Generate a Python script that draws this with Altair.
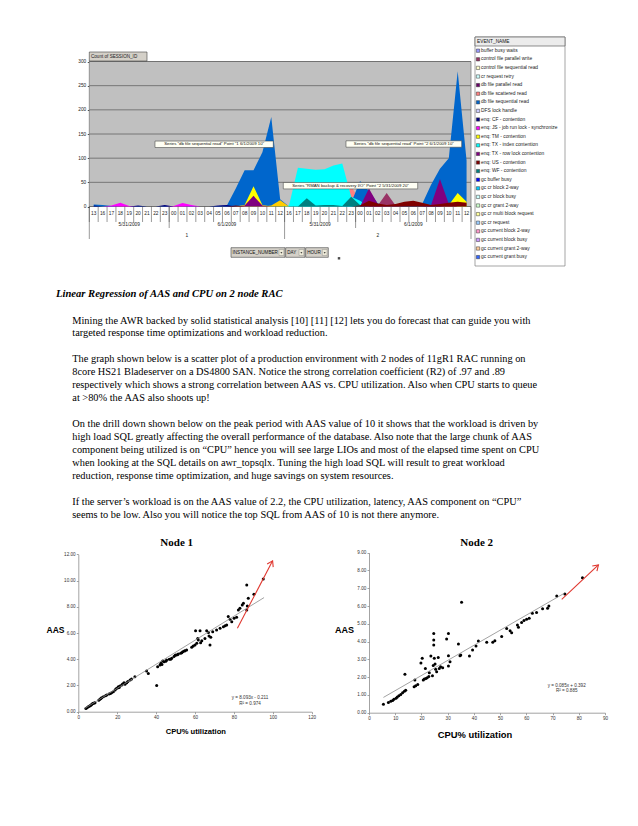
import math
import altair as alt
import pandas as pd

W, H = 622, 810

# ---------------- top pivot chart (Count of SESSION_ID by EVENT_NAME) ----------------
INSTANCES = ["1", "2"]
DAYS = ["5/31/2009", "6/1/2009"]
HOURS_I1_D1 = ["13", "16", "17", "18", "19", "20", "21", "22", "23"]
HOURS_I1_D2 = ["00", "01", "02", "03", "04", "05", "06", "07", "08", "09", "10", "11", "12"]
HOURS_I2_D1 = ["16", "17", "18", "19", "20", "21", "22", "23"]
HOURS_I2_D2 = ["00", "01", "02", "03", "04", "05", "06", "07", "08", "09", "10", "11", "12"]
Y_TICKS_TOP = [0, 50, 100, 150, 200, 250, 300]

# values per hour category (9 | 13 | 8 | 13)
S_SCATTERED = [0]*9 + [0]*13 + [0, 0, 0, 0, 0, 0, 0, 42] + [12] + [0]*12
S_SEQUENTIAL = [4, 3, 1, 0, 0, 1, 0, 0, 1] + [0, 0, 1, 0, 0, 1, 2, 37, 75, 75, 112, 185, 15] + \
               [0, 0, 0, 0, 0, 0, 0, 8] + [53, 32, 6, 3, 2, 2, 3, 5, 45, 78, 100, 280, 95]
S_RMAN = [0]*9 + [0]*13 + [2, 80, 78, 76, 77, 85, 89, 20] + [12, 0] + [0]*11
S_WF = [0]*9 + [0]*13 + [0, 0, 17, 2, 3, 3, 1, 20] + [3] + [0]*12
S_JS = [0, 0, 2, 8, 1, 0, 0, 0, 0] + [1, 7, 3] + [0]*10 + [0]*8 + [0]*13
S_CF = [2, 0, 0, 0, 0, 2, 0, 0, 3] + [0]*5 + [2, 3] + [0]*6 + [0]*8 + [0]*13
S_GOLD = [0]*9 + [0]*11 + [2, 13] + [0]*8 + [0]*13
S_TM = [0]*9 + [0]*8 + [3, 42, 3, 0, 0] + [0]*8 + [0]*10 + [3, 28, 10]
S_TX_ROW = [0]*9 + [0]*8 + [2, 22, 2, 0, 0] + [0]*8 + [0, 37, 5, 0, 0, 0, 0, 0, 3, 57, 5, 0, 0]
S_CTRL = [0]*9 + [0]*13 + [0]*8 + [0, 0, 2, 28, 2, 0, 0, 0, 0, 0, 0, 0, 0]
S_US = [0]*9 + [0]*7 + [2] + [0]*5 + [0]*8 + [2, 12, 6, 3, 5, 10, 12, 8, 3, 5, 8, 10, 8]

SERIES = [  # back to front
    ("db file scattered read", "#FF8080", S_SCATTERED),
    ("db file sequential read", "#0066CC", S_SEQUENTIAL),
    ("RMAN backup & recovery I/O", "#00FFFF", S_RMAN),
    ("enq: WF - contention", "#008080", S_WF),
    ("enq: JS - job run lock - synchronize", "#FF00FF", S_JS),
    ("enq: CF - contention", "#000080", S_CF),
    ("log file parallel write", "#FFCC00", S_GOLD),
    ("enq: TM - contention", "#FFFF00", S_TM),
    ("enq: TX - row lock contention", "#800080", S_TX_ROW),
    ("control file parallel write", "#993366", S_CTRL),
    ("enq: US - contention", "#800000", S_US),
]

LEGEND_NAMES = [
    "buffer busy waits", "control file parallel write", "control file sequential read",
    "cr request retry", "db file parallel read", "db file scattered read",
    "db file sequential read", "DFS lock handle", "enq: CF - contention",
    "enq: JS - job run lock - synchronize", "enq: TM - contention",
    "enq: TX - index contention", "enq: TX - row lock contention", "enq: US - contention",
    "enq: WF - contention", "gc buffer busy", "gc cr block 2-way", "gc cr block busy",
    "gc cr grant 2-way", "gc cr multi block request", "gc cr request",
    "gc current block 2-way", "gc current block busy", "gc current grant 2-way",
    "gc current grant busy",
]
LEGEND_COLORS = [
    "#9999FF", "#993366", "#FFFFCC", "#CCFFFF", "#660066", "#FF8080", "#0066CC", "#CCCCFF",
    "#000080", "#FF00FF", "#FFFF00", "#00FFFF", "#800080", "#800000", "#008080", "#0000FF",
    "#00CCFF", "#CCFFFF", "#CCFFCC", "#FFFF99", "#99CCFF", "#FF99CC", "#CC99FF", "#FFCC99",
    "#3366FF",
]

CALLOUTS = [
    'Series "db file sequential read" Point "1 6/1/2009 10"',
    'Series "db file sequential read" Point "2 6/1/2009 10"',
    'Series "RMAN backup & recovery I/O" Point "2 5/31/2009 20"',
]
PIVOT_BUTTONS = ["INSTANCE_NUMBER", "DAY", "HOUR"]

# ---------------- article text ----------------
TITLE = "Linear Regression of AAS and CPU on 2 node RAC"
LINES = [
    "Mining the AWR backed by solid statistical analysis [10] [11] [12] lets you do forecast that can guide you with",
    "targeted response time optimizations and workload reduction.",
    "",
    "The graph shown below is a scatter plot of a production environment with 2 nodes of 11gR1 RAC running on",
    "8core HS21 Bladeserver on a DS4800 SAN. Notice the strong correlation coefficient (R2) of .97 and .89",
    "respectively which shows a strong correlation between AAS vs. CPU utilization. Also when CPU starts to queue",
    "at >80% the AAS also shoots up!",
    "",
    "On the drill down shown below on the peak period with AAS value of 10 it shows that the workload is driven by",
    "high load SQL greatly affecting the overall performance of the database. Also note that the large chunk of AAS",
    "component being utilized is on \u201cCPU\u201d hence you will see large LIOs and most of the elapsed time spent on CPU",
    "when looking at the SQL details on awr_topsqlx. Tuning the high load SQL will result to great workload",
    "reduction, response time optimization, and huge savings on system resources.",
    "",
    "If the server\u2019s workload is on the AAS value of 2.2, the CPU utilization, latency, AAS component on \u201cCPU\u201d",
    "seems to be low. Also you will notice the top SQL from AAS of 10 is not there anymore.",
]

# ---------------- scatter data ----------------
N1_CPU = [3.9, 4.5, 5.1, 5.6, 6.0, 6.5, 6.9, 7.3, 7.7, 8.2, 8.6, 10.5, 11.1, 11.6, 12.0, 12.9, 14.0,
          14.6, 15.8, 16.5, 17.1, 18.0, 18.9, 19.4, 20.1, 20.6, 21.0, 21.4, 22.3, 22.8, 23.5, 24.0,
          24.9, 25.5, 26.6, 27.4, 29.1, 35.1, 36.0, 40.3, 40.8, 42.0, 42.5, 43.0, 43.4, 44.1, 45.0,
          45.4, 46.8, 47.5, 48.0, 49.2, 49.8, 50.2, 51.0, 51.4, 52.6, 53.2, 53.7, 54.5, 54.9, 55.7,
          58.3, 59.1, 60.0, 60.9, 60.3, 62.6, 61.4, 61.7, 62.9, 63.5, 65.1, 66.0, 66.9, 67.2, 67.7,
          68.1, 69.1, 71.1, 72.9, 74.6, 75.5, 76.3, 77.1, 78.0, 78.9, 80.1, 81.4, 82.3, 83.1, 84.3,
          84.9, 86.6, 86.6, 86.9, 87.4, 90.3, 95.1]
N1_AAS = [0.25, 0.30, 0.38, 0.42, 0.46, 0.50, 0.56, 0.60, 0.64, 0.66, 0.69, 0.88, 0.94, 1.00, 1.07,
          1.14, 1.22, 1.27, 1.35, 1.38, 1.45, 1.53, 1.65, 1.75, 1.80, 1.90, 1.85, 1.96, 2.03, 2.11,
          2.21, 2.10, 2.21, 2.30, 2.42, 2.49, 2.67, 3.10, 2.92, 2.00, 3.43, 3.56, 3.69, 3.60, 3.86,
          3.81, 3.85, 3.94, 3.99, 4.00, 4.07, 4.20, 4.30, 4.32, 4.35, 4.40, 4.45, 4.50, 4.58, 4.62,
          4.65, 4.70, 4.91, 5.01, 5.09, 5.21, 6.18, 6.18, 5.59, 5.47, 5.26, 5.40, 5.59, 6.18, 6.03,
          5.77, 5.09, 5.67, 6.10, 6.23, 6.36, 6.48, 6.55, 6.61, 7.25, 7.04, 6.86, 7.12, 7.20, 7.75,
          7.88, 8.14, 8.26, 9.66, 7.75, 8.06, 8.64, 8.95, 10.12]
N1_TREND_X = [3.4, 95.5]
N1_TREND_Y = [0.26, 8.70]
N1_ARROW_X = [81.8, 99.9]
N1_ARROW_Y = [6.36, 11.5]
N1_X_TICKS = [0, 20, 40, 60, 80, 100, 120]
N1_Y_TICKS = [0, 2, 4, 6, 8, 10, 12]

N2_CPU = [5.5, 7.4, 8.3, 9.0, 9.5, 10.3, 10.8, 11.4, 12.1, 12.8, 13.5, 14.0, 13.7, 17.2, 17.8, 18.6,
          17.5, 19.8, 20.3, 20.7, 21.1, 21.7, 22.2, 22.8, 21.5, 23.0, 23.6, 24.2, 24.5, 24.7, 24.7,
          24.7, 24.9, 25.2, 25.4, 25.8, 26.4, 26.8, 27.3, 28.1, 29.6, 30.3, 30.3, 30.3, 30.9, 34.1,
          34.7, 35.0, 35.3, 38.3, 39.5, 40.8, 41.7, 44.9, 47.2, 48.0, 50.6, 52.5, 53.8, 54.4, 56.6,
          57.0, 58.2, 59.1, 60.1, 61.1, 62.3, 63.9, 66.2, 68.1, 68.6, 71.6, 74.7, 81.4]
N2_AAS = [0.47, 0.58, 0.64, 0.69, 0.75, 0.81, 0.88, 0.96, 1.03, 1.12, 1.20, 1.26, 2.16, 1.46, 1.52,
          1.59, 1.84, 2.79, 3.06, 1.84, 1.89, 1.93, 1.97, 2.03, 2.49, 2.25, 3.19, 2.08, 2.66, 4.46,
          4.09, 3.81, 3.06, 2.74, 2.44, 2.31, 3.11, 2.49, 2.59, 2.53, 4.14, 4.46, 3.21, 2.63, 2.87,
          3.86, 3.21, 3.25, 6.21, 3.19, 3.53, 3.75, 4.03, 3.96, 3.96, 4.05, 4.28, 4.73, 4.61, 4.50,
          4.93, 4.80, 5.08, 5.18, 5.25, 5.31, 5.59, 5.63, 5.85, 5.87, 6.00, 6.56, 6.68, 7.59]
N2_TREND_X = [5.5, 74.5]
N2_TREND_Y = [0.86, 6.72]
N2_ARROW_X = [73.5, 87.5]
N2_ARROW_Y = [6.38, 8.31]
N2_X_TICKS = [0, 10, 20, 30, 40, 50, 60, 70, 80, 90]
N2_Y_TICKS = [0, 1, 2, 3, 4, 5, 6, 7, 8, 9]

SANS = "Liberation Sans"
SERIF = "Liberation Serif"


def one():
    return pd.DataFrame({"k": [0]})


def box(x1, x2, y1, y2, fill, stroke, sw=0.6):
    return alt.Chart(one()).mark_rect(fill=fill, stroke=stroke, strokeWidth=sw).encode(
        x=alt.value(x1), x2=alt.value(x2), y=alt.value(y1), y2=alt.value(y2))


def label(txt, x, y, size, font=SANS, align="center", weight="normal", style="normal", color="#222"):
    return alt.Chart(pd.DataFrame({"t": [txt]})).mark_text(
        font=font, fontSize=size, align=align, baseline="middle", fontWeight=weight,
        fontStyle=style, color=color).encode(x=alt.value(x), y=alt.value(y), text="t:N")


layers = []

# ---- top chart geometry ----
hour_groups = [HOURS_I1_D1, HOURS_I1_D2, HOURS_I2_D1, HOURS_I2_D2]
HOURS = sum(hour_groups, [])
n = len(HOURS)
pos = [i + 0.5 for i in range(n)]
X_TOP = dict(domain=[0, n], range=[81.3, 463.0], nice=False, zero=False)
Y_TOP = dict(domain=[0, 300], range=[198.5, 53.5], nice=False, zero=False)
PLOT_L, PLOT_R, PLOT_T, PLOT_B = 81.3, 463.0, 53.5, 198.5

layers.append(box(PLOT_L, PLOT_R, PLOT_T, PLOT_B, "#C0C0C0", "#808080", 0.8))

grid = alt.Chart(pd.DataFrame({"v": Y_TICKS_TOP})).mark_rule(color="#6E6E6E", strokeWidth=0.9).encode(
    x=alt.value(PLOT_L), x2=alt.value(PLOT_R),
    y=alt.Y("v:Q", scale=alt.Scale(**Y_TOP),
            axis=alt.Axis(orient="left", offset=-PLOT_L, values=Y_TICKS_TOP, title=None, grid=False,
                          domain=False, tickSize=2, tickColor="#444", labelPadding=1.5,
                          labelFontSize=4.8, labelFont=SANS, labelColor="#222",
                          labelOverlap=False, labelFlush=False)))
layers.append(grid)

for name, color, vals in SERIES:
    df = pd.DataFrame({"pos": pos, "v": vals, "event": name})
    layers.append(alt.Chart(df).mark_area(color=color, opacity=1, interpolate="linear").encode(
        x=alt.X("pos:Q", scale=alt.Scale(**X_TOP), axis=None),
        y=alt.Y("v:Q", scale=alt.Scale(**Y_TOP), axis=None),
        y2=alt.datum(0)))

# hour labels and separators
layers.append(alt.Chart(pd.DataFrame({"pos": pos, "h": HOURS})).mark_text(
    font=SANS, fontSize=4.8, color="#222", baseline="middle").encode(
    x=alt.X("pos:Q", scale=alt.Scale(**X_TOP), axis=None), y=alt.value(206.3), text="h:N"))

bounds = [0]
for g in hour_groups:
    bounds.append(bounds[-1] + len(g))
inst_bounds = [bounds[0], bounds[2], bounds[4]]
date_bounds = [bounds[1], bounds[3]]

layers.append(alt.Chart(pd.DataFrame({"b": list(range(n + 1))})).mark_rule(color="#555", strokeWidth=0.6).encode(
    x=alt.X("b:Q", scale=alt.Scale(**X_TOP), axis=None), y=alt.value(PLOT_B), y2=alt.value(214)))
layers.append(alt.Chart(pd.DataFrame({"b": date_bounds})).mark_rule(color="#555", strokeWidth=0.6).encode(
    x=alt.X("b:Q", scale=alt.Scale(**X_TOP), axis=None), y=alt.value(PLOT_B), y2=alt.value(220)))
layers.append(alt.Chart(pd.DataFrame({"b": inst_bounds})).mark_rule(color="#555", strokeWidth=0.6).encode(
    x=alt.X("b:Q", scale=alt.Scale(**X_TOP), axis=None), y=alt.value(PLOT_B), y2=alt.value(231)))

date_df = pd.DataFrame({
    "c": [(bounds[i] + bounds[i + 1]) / 2 for i in range(4)],
    "t": [DAYS[0], DAYS[1], DAYS[0], DAYS[1]]})
layers.append(alt.Chart(date_df).mark_text(font=SANS, fontSize=4.8, color="#222").encode(
    x=alt.X("c:Q", scale=alt.Scale(**X_TOP), axis=None), y=alt.value(217.3), text="t:N"))
inst_df = pd.DataFrame({"c": [(bounds[0] + bounds[2]) / 2, (bounds[2] + bounds[4]) / 2], "t": INSTANCES})
layers.append(alt.Chart(inst_df).mark_text(font=SANS, fontSize=4.8, color="#222").encode(
    x=alt.X("c:Q", scale=alt.Scale(**X_TOP), axis=None), y=alt.value(228.3), text="t:N"))

# "Count of SESSION_ID" field button
layers.append(box(81.3, 139, 44, 53, "#D4D0C8", "#404040", 0.6))
layers.append(label("Count of SESSION_ID", 83, 48.5, 4.6, align="left"))

# data-label callouts
for (x1, x2, yc), txt in zip([(147, 265.3, 136.3), (338, 453.7, 136.0), (275.3, 409.7, 177.7)], CALLOUTS):
    layers.append(box(x1, x2, yc - 3.2, yc + 3.2, "#FFFFF4", "#303030", 0.5))
    layers.append(label(txt, (x1 + x2) / 2, yc, 4.3, color="#111"))

# pivot row-field buttons
for (x1, x2), txt in zip([(223, 277), (277.7, 297), (297.7, 320.3)], PIVOT_BUTTONS):
    layers.append(box(x1, x2, 239.7, 249.3, "#D4D0C8", "#404040", 0.6))
    layers.append(box(x2 - 6, x2 - 1.2, 241.5, 247.5, "#ECE9D8", "#808080", 0.4))
    layers.append(label(txt, x1 + 1.5, 244.5, 4.6, align="left", color="#111"))
    layers.append(alt.Chart(one()).mark_point(shape="triangle-down", filled=True, color="#000", size=4).encode(
        x=alt.value(x2 - 3.6), y=alt.value(244.8)))
layers.append(alt.Chart(one()).mark_square(color="#000", size=6).encode(x=alt.value(331), y=alt.value(250.3)))

# legend (EVENT_NAME)
layers.append(box(467, 557, 29, 258, "#FFFFFF", "#808080", 0.7))
layers.append(box(467, 557, 29, 38, "#ECECEC", "#606060", 0.7))
layers.append(label("EVENT_NAME", 469, 33.8, 4.8, align="left", color="#111"))
leg_df = pd.DataFrame({"i": list(range(len(LEGEND_NAMES))), "name": LEGEND_NAMES})
LEG_Y = dict(domain=[0, len(LEGEND_NAMES) - 1], range=[42.7, 42.7 + 8.6 * (len(LEGEND_NAMES) - 1)], nice=False, zero=False)
layers.append(alt.Chart(leg_df).mark_square(size=11, stroke="#333", strokeWidth=0.5, opacity=1).encode(
    x=alt.value(470), y=alt.Y("i:Q", scale=alt.Scale(**LEG_Y), axis=None),
    fill=alt.Fill("name:N", scale=alt.Scale(domain=LEGEND_NAMES, range=LEGEND_COLORS), legend=None)))
layers.append(alt.Chart(leg_df).mark_text(font=SANS, fontSize=4.9, align="left", baseline="middle", color="#222").encode(
    x=alt.value(473), y=alt.Y("i:Q", scale=alt.Scale(**LEG_Y), axis=None), text="name:N"))

# ---- article text ----
layers.append(label(TITLE, 48, 285.6, 10.6, font=SERIF, align="left", weight="bold", style="italic", color="#000"))
txt_df = pd.DataFrame({"i": list(range(len(LINES))), "t": LINES})
layers.append(alt.Chart(txt_df).mark_text(font=SERIF, fontSize=10.35, align="left", baseline="middle", color="#000").encode(
    x=alt.value(64.3),
    y=alt.Y("i:Q", scale=alt.Scale(domain=[0, len(LINES) - 1], range=[312.5, 506.5], nice=False, zero=False), axis=None),
    text="t:N"))


# ---- scatter panels ----
def scatter(cpu, aas, tx, ty, ax, ay, xticks, yticks, xrng, yrng, title, tpos, aas_pos, aas_size,
            cpu_pos, cpu_size, eq, eq_pos):
    xs = alt.Scale(domain=[xticks[0], xticks[-1]], range=xrng, nice=False, zero=False)
    ys = alt.Scale(domain=[yticks[0], yticks[-1]], range=yrng, nice=False, zero=False)
    common = dict(title=None, grid=False, domainColor="#8C8C8C", tickColor="#8C8C8C", tickSize=2,
                  labelPadding=1.2, labelFontSize=4.6, labelFont=SANS, labelColor="#333",
                  labelOverlap=False, labelFlush=False, domainWidth=0.8, tickWidth=0.8)
    out = []
    out.append(alt.Chart(pd.DataFrame({"cpu": cpu, "aas": aas})).mark_circle(size=9, color="#000", opacity=1).encode(
        x=alt.X("cpu:Q", scale=xs, axis=alt.Axis(orient="bottom", offset=yrng[0] - H, values=xticks, **common)),
        y=alt.Y("aas:Q", scale=ys, axis=alt.Axis(orient="left", offset=-xrng[0], values=yticks, format=".2f", **common))))
    out.append(alt.Chart(pd.DataFrame({"x": tx, "y": ty})).mark_line(color="#8A8A8A", strokeWidth=0.8).encode(
        x=alt.X("x:Q", scale=xs, axis=None), y=alt.Y("y:Q", scale=ys, axis=None)))
    out.append(alt.Chart(pd.DataFrame({"x": ax, "y": ay})).mark_line(color="#E0372F", strokeWidth=1.1).encode(
        x=alt.X("x:Q", scale=xs, axis=None), y=alt.Y("y:Q", scale=ys, axis=None)))
    pxu = (xrng[1] - xrng[0]) / (xticks[-1] - xticks[0])
    pyu = (yrng[0] - yrng[1]) / (yticks[-1] - yticks[0])
    ang = math.degrees(math.atan2(-(ay[1] - ay[0]) * pyu, (ax[1] - ax[0]) * pxu)) % 360
    out.append(alt.Chart(pd.DataFrame({"x": [ax[1]], "y": [ay[1]]})).mark_point(
        shape="M -1 -0.65 L 0 0 L -1 0.65", filled=False, stroke="#E0372F", strokeWidth=1.1,
        size=110, angle=ang, opacity=1).encode(
        x=alt.X("x:Q", scale=xs, axis=None), y=alt.Y("y:Q", scale=ys, axis=None)))
    out.append(label(title, tpos[0], tpos[1], 11, font=SERIF, weight="bold", color="#000"))
    out.append(label("AAS", aas_pos[0], aas_pos[1], aas_size, weight="bold", color="#000"))
    out.append(label("CPU% utilization", cpu_pos[0], cpu_pos[1], cpu_size, weight="bold", color="#000"))
    out.append(label(eq[0], eq_pos[0], eq_pos[1], 4.6, color="#333"))
    out.append(label(eq[1], eq_pos[0], eq_pos[1] + 5.5, 4.6, color="#333"))
    return out


layers += scatter(N1_CPU, N1_AAS, N1_TREND_X, N1_TREND_Y, N1_ARROW_X, N1_ARROW_Y, N1_X_TICKS, N1_Y_TICKS,
                  [70.3, 303.7], [703.7, 546.3], "Node 1", (168.7, 535.3), (47.5, 622), 8.5,
                  (187.8, 723.7), 7.6, ("y = 8.093x - 0.211", "R\u00b2 = 0.974"), (242, 690.3))
layers += scatter(N2_CPU, N2_AAS, N2_TREND_X, N2_TREND_Y, N2_ARROW_X, N2_ARROW_Y, N2_X_TICKS, N2_Y_TICKS,
                  [361, 597], [704.7, 544.7], "Node 2", (468.7, 534.7), (336.5, 622), 9.0,
                  (467, 727), 9.4, ("y = 0.085x + 0.392", "R\u00b2 = 0.885"), (558.7, 677.7))

chart = alt.layer(*layers).resolve_scale(
    x="independent", y="independent", fill="independent", color="independent"
).properties(
    width=W, height=H, autosize=alt.AutoSizeParams(type="none"), padding=0
).configure_view(stroke=None)

chart.save("out.html", embed_options={"renderer": "svg", "actions": False})
